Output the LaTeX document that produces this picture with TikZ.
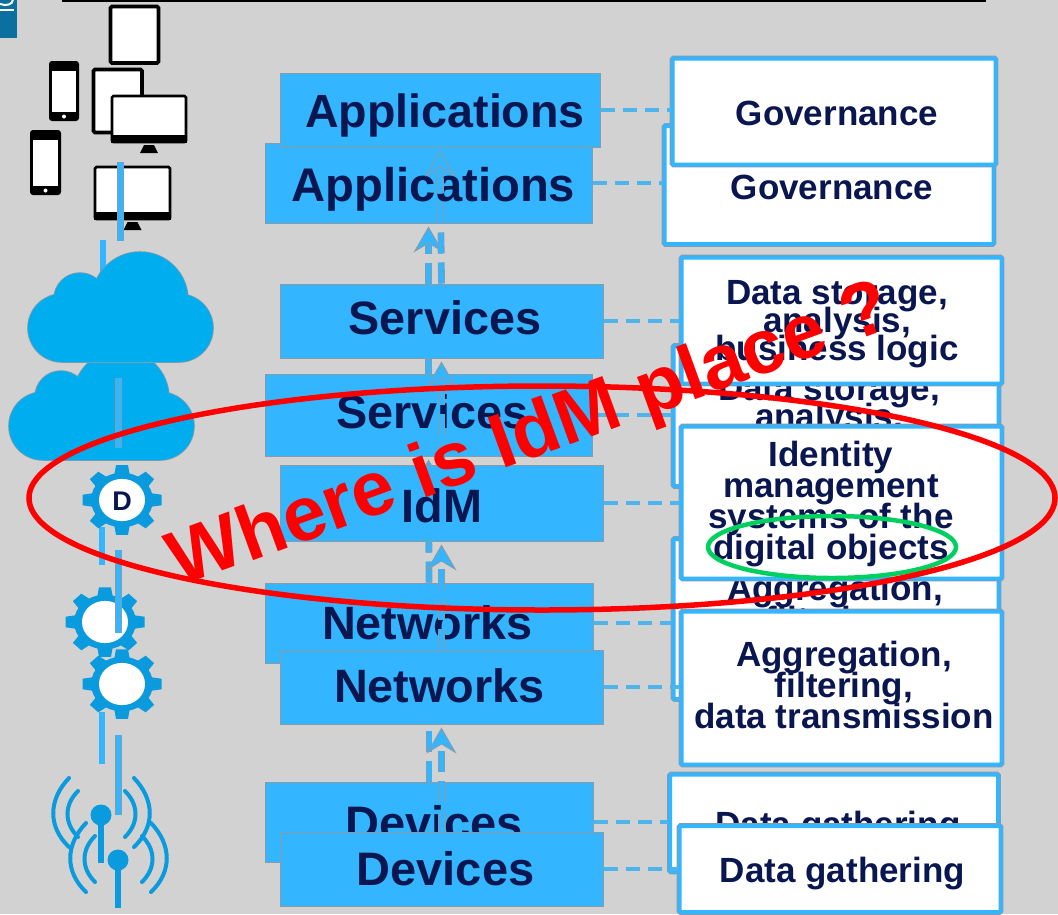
\documentclass[tikz,border=0pt]{standalone}
\usepackage{fontspec}
\setmainfont{Liberation Sans}
\usetikzlibrary{arrows.meta}
\definecolor{bgc}{HTML}{D2D2D2}
\definecolor{boxc}{HTML}{33B5FF}
\definecolor{edgec}{HTML}{8A9BA8}
\definecolor{navy}{HTML}{0A1650}
\definecolor{cloudc}{HTML}{00AEEF}
\definecolor{gearc}{HTML}{0A9ADE}
\definecolor{linkc}{HTML}{4DB5EC}
\definecolor{redc}{HTML}{FF0000}
\definecolor{greenc}{HTML}{00D060}
\definecolor{logoc}{HTML}{0B6FA0}
\newcommand{\tightlines}{\lineskiplimit=-20pt \lineskip=0pt\relax}
\newcommand{\gearicon}[2]{%
  \begin{scope}[shift={(#1,#2)},yscale=.88]
    \fill[gearc] (0,0) circle[radius=31];
    \foreach \a in {0,45,...,315}{
      \fill[gearc,rotate=\a] (-8,-27) -- (-6,-39.5) -- (6,-39.5) -- (8,-27) -- cycle;
    }
    \fill[white] (0,0) circle[x radius=23,y radius=24];
  \end{scope}}
\newcommand{\cloudicon}[2]{%
  \path[shift={(#1,#2)},fill=cloudc,preaction={draw=edgec,line width=1.6pt}]
    (140,300) circle[radius=48]
    (80,299) circle[radius=26]
    (62,328) circle[radius=34]
    (179,328) circle[radius=34]
    (179,294) rectangle (62,362);}
\newcommand{\antenna}[2]{%
  \begin{scope}[shift={(#1,#2)}]
    \fill[gearc] (0,0) circle[radius=10.5];
    \draw[gearc,line width=6.5pt] (0,0) -- (0,48);
    \draw[gearc,line width=4pt,line cap=round] (-32,-37) .. controls (-53,-15) and (-53,12) .. (-32,32);
    \draw[gearc,line width=4pt,line cap=round] (-23,-24) .. controls (-37,-10) and (-37,8) .. (-23,22);
    \draw[gearc,line width=4pt,line cap=round] (33,-37) .. controls (54,-15) and (54,12) .. (33,32);
    \draw[gearc,line width=4pt,line cap=round] (24,-24) .. controls (38,-10) and (38,8) .. (24,22);
  \end{scope}}
\newcommand{\phoneicon}[4]{%
  \fill[black,rounded corners=3pt] (#1,#2) rectangle (#3,#4);
  \fill[white] (#1+3,#2+10) rectangle (#3-3,#4-9);
  \fill[white] ({(#1+#3)/2},#4-4.5) circle[radius=2];}
\newcommand{\tableticon}[4]{%
  \draw[black,line width=3.6pt,fill=white,rounded corners=1.5pt] (#1,#2) rectangle (#3,#4);}
\newcommand{\monitoricon}[4]{%
  \draw[black,line width=2.6pt,fill=white,rounded corners=1.5pt] (#1,#2) rectangle (#3,#4);
  \fill[black] (#1-1,#4-7) rectangle (#3+1,#4+1);
  \fill[black] ({(#1+#3)/2-5},#4+3) -- ({(#1+#3)/2+5},#4+3) -- ({(#1+#3)/2+9},#4+11) -- ({(#1+#3)/2-9},#4+11) -- cycle;}
\tikzset{
  bluebox/.style={draw=edgec,line width=1pt,fill=boxc,inner sep=0pt},
  whitebox/.style={draw=boxc,line width=4pt,fill=white,rounded corners=1pt,inner sep=0pt,
    preaction={draw=edgec,line width=5.6pt}},
  bigtext/.style={text=navy,inner sep=0pt,anchor=base,font=\fontsize{#1}{#1}\selectfont\bfseries},
  bigtext/.default=46.8,
  boxtext/.style={text=navy,inner sep=0pt,align=center,
    font=\fontsize{#1}{31}\selectfont\bfseries\tightlines},
  boxtext/.default=35,
  linetext/.style={text=navy,inner sep=0pt,anchor=base,font=\fontsize{35}{35}\selectfont\bfseries},
  tighttext/.style={text=navy,inner sep=0pt,align=center,
    font=\fontsize{35}{28}\selectfont\bfseries\tightlines},
  link/.style={draw=linkc,line width=4.5pt,dash pattern=on 14pt off 8pt},
  flow/.style={draw=edgec,line width=.9pt,double=boxc,double distance=5pt,
    dash pattern=on 21pt off 9pt,shorten >=3pt,
    -{Stealth[length=26pt,width=30pt,inset=9pt,fill=boxc,color=edgec,line width=.9pt]}},
  iconbar/.style={draw=boxc,line width=5.5pt,preaction={draw=edgec,line width=6.5pt}},
}
\begin{document}
\begin{tikzpicture}[x=1pt,y=-1pt]
\useasboundingbox (0,0) rectangle (1058,914);
\fill[bgc] (0,0) rectangle (1058,914);
% top bar and logo
\draw[black,line width=2.4pt] (62,0.8) -- (986,0.8);
\fill[logoc] (0,0) rectangle (17,38);
\draw[white,line width=2pt] (0,10) -- (14,10);
\draw[white,line width=2pt] (0,4) .. controls (6,6) and (12,5) .. (13,0);

% icons, back and front
\tableticon{110.5}{6.5}{158.5}{63}
\tableticon{93.5}{69.5}{142}{132.5}
\monitoricon{112}{96}{186}{142}
\monitoricon{95}{167}{170}{219}
\phoneicon{49}{61}{79}{121}
\phoneicon{30}{130}{61}{195}
\coordinate (d1) at (120.5,162);
\coordinate (c1) at (120.5,241);
\coordinate (d2) at (103,240);
\coordinate (c2) at (103,283);
\draw[iconbar] (d2) -- (c2);
\cloudicon{-19}{98}
\cloudicon{0}{0}
\draw[iconbar] (d1) -- (c1);
\coordinate (c3) at (118.5,378);
\coordinate (c4) at (118.5,448);
\draw[iconbar] (c3) -- (c4);

\coordinate (g1) at (102,527);
\coordinate (g2) at (102,565);
\draw[iconbar] (g1) -- (g2);
\gearicon{105}{622}
\gearicon{122}{684}
\gearicon{122}{500}
\node[text=navy,inner sep=0pt,font=\fontsize{27}{27}\selectfont\bfseries] (dlabel) at (122,501) {D};
\coordinate (g3) at (118.5,550);
\coordinate (g4) at (118.5,633);
\draw[iconbar] (g3) -- (g4);
\coordinate (g5) at (102,712);
\coordinate (g6) at (102,764);
\draw[iconbar] (g5) -- (g6);
\antenna{101}{815}
\antenna{118}{860}
\coordinate (g7) at (118.5,735);
\coordinate (g8) at (118.5,815);
\draw[iconbar] (g7) -- (g8);

% back slide
\node[bluebox,minimum width=327pt,minimum height=80pt] (appB) at (428.5,183) {};
\node[bluebox,minimum width=327pt,minimum height=82pt] (serB) at (428.5,415) {};
\node[bluebox,minimum width=328pt,minimum height=80pt] (netB) at (429,623) {};
\node[bluebox,minimum width=328pt,minimum height=80pt] (devB) at (429,822) {};
\node[bigtext=47.2] (appBt) at (433.5,201) {Applications};
\node[bigtext] (serBt) at (432.5,428) {Services};
\node[bigtext] (netBt) at (427.5,639) {Networks};
\node[bigtext=47] (devBt) at (434,839) {Devices};
\node[whitebox,minimum width=329pt,minimum height=118pt] (govB) at (829,185) {};
\node[whitebox,minimum width=325pt,minimum height=140pt] (datB) at (836,416) {};
\node[whitebox,minimum width=325pt,minimum height=160pt] (aggB) at (836,619) {};
\node[whitebox,minimum width=328pt,minimum height=97pt] (gatB) at (834,823) {};
\node[linetext] (govBt) at (832,199.5) {Governance};
\node[tighttext] (datBt) at (829,420) {Data storage,\\analysis,\\business logic};
\node[boxtext=35] (aggBt) at (835,619) {Aggregation,\\filtering,\\data transmission};
\node[linetext] (gatBt) at (838,836) {Data gathering};
\draw[link] (appB.east) -- (appB.east -| govB.west);
\draw[link] (serB.east) -- (serB.east -| datB.west);
\draw[link] (netB.east) -- (netB.east -| aggB.west);
\draw[link] (devB.east) -- (devB.east -| gatB.west);
\draw[flow] (devB.north) -- (netB.south);
\draw[flow] (netB.north) -- (serB.south);
\draw[flow] (serB.north) -- (appB.south);

% front slide
\node[bluebox,minimum width=320pt,minimum height=74pt] (appF) at (440,110) {};
\node[bluebox,minimum width=323pt,minimum height=74pt] (serF) at (441.5,321) {};
\node[bluebox,minimum width=323pt,minimum height=76pt] (idmF) at (441.5,503) {};
\node[bluebox,minimum width=323pt,minimum height=74pt] (netF) at (441.5,687) {};
\node[bluebox,minimum width=323pt,minimum height=74pt] (devF) at (441.5,869) {};
\node[bigtext=46.6] (appFt) at (445,127) {Applications};
\node[bigtext] (serFt) at (445,334) {Services};
\node[bigtext] (idmFt) at (442,522) {IdM};
\node[bigtext] (netFt) at (439.5,702) {Networks};
\node[bigtext=47] (devFt) at (445.5,885) {Devices};
\node[whitebox,minimum width=323pt,minimum height=106pt] (govF) at (834,111.5) {};
\node[whitebox,minimum width=320pt,minimum height=126pt] (datF) at (841.5,320.5) {};
\node[whitebox,minimum width=320pt,minimum height=152pt] (idF) at (841.5,502.5) {};
\node[whitebox,minimum width=320pt,minimum height=153pt] (aggF) at (841.5,688) {};
\node[whitebox,minimum width=321pt,minimum height=86pt] (gatF) at (840,869) {};
\node[linetext] (govFt) at (837,125.5) {Governance};
\node[tighttext] (datFt) at (837,324) {Data storage,\\analysis,\\business logic};
\node[boxtext=35] (idFt) at (831,504) {Identity\\management\\systems of the\\digital objects};
\node[boxtext=35] (aggFt) at (844,685) {Aggregation,\\filtering,\\data transmission};
\node[linetext] (gatFt) at (842.5,882) {Data gathering};
\draw[link] (appF.east) -- (appF.east -| govF.west);
\draw[link] (serF.east) -- (serF.east -| datF.west);
\draw[link] (idmF.east) -- (idmF.east -| idF.west);
\draw[link] (netF.east) -- (netF.east -| aggF.west);
\draw[link] (devF.east) -- (devF.east -| gatF.west);
\draw[flow] (devF.north) -- (netF.south);
\draw[flow] (netF.north) -- (idmF.south);
\draw[flow] (idmF.north) -- (serF.south);
\draw[flow] (serF.north) -- (appF.south);

% highlights
\draw[greenc,line width=4.5pt] (832,547) ellipse[x radius=124,y radius=31];
\draw[redc,line width=5.5pt] (542,498) ellipse[x radius=513,y radius=112];
\node[text=redc,inner sep=0pt,rotate=20,font=\fontsize{77}{77}\selectfont\bfseries] (where) at (531,438) {Where is IdM place ?};
\end{tikzpicture}
\end{document}
